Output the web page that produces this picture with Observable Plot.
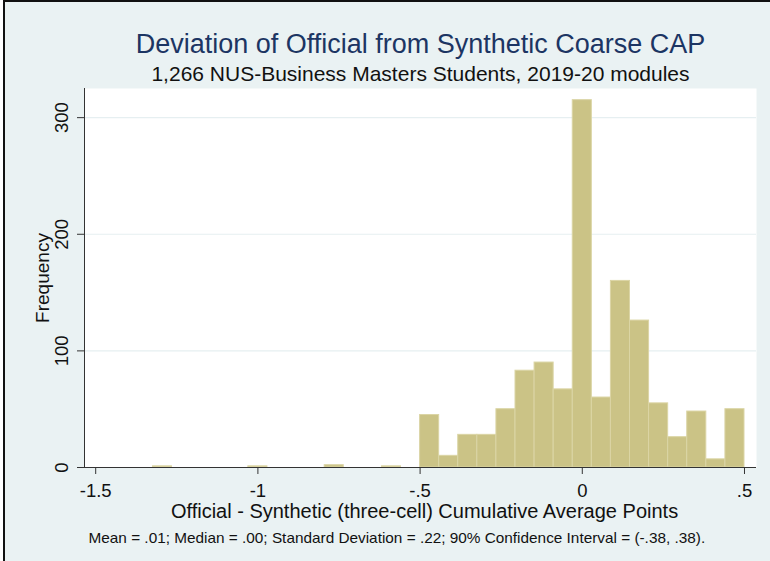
<!DOCTYPE html>
<html>
<head>
<meta charset="utf-8">
<script src="https://cdn.jsdelivr.net/npm/d3@7"></script>
<script src="https://cdn.jsdelivr.net/npm/@observablehq/plot@0.6"></script>
<style>
  html, body { margin: 0; padding: 0; background: #ffffff; }
  #chart { position: relative; width: 770px; height: 561px; overflow: hidden; }
  #chart svg { display: block; background: #eaf2f3; }
  .edge-top { position: absolute; left: 0; top: 0; width: 770px; height: 2px; background: #111; }
  .edge-left { position: absolute; left: 0; top: 0; width: 5px; height: 561px;
               background: linear-gradient(to right, #ffffff 0 3px, #111 3px 5px); }
</style>
</head>
<body>
<div id="chart"></div>
<script>
// Histogram bins (left edge of each non-empty bin, width 1/17 point) and frequencies
const binLeft = [-1.3235, -1.0294, -0.7941, -0.6176,
                 -0.5, -0.4412, -0.3824, -0.3235, -0.2647, -0.2059, -0.1471, -0.0882,
                 -0.0294, 0.0294, 0.0882, 0.1471, 0.2059, 0.2647, 0.3235, 0.3824, 0.4412];
const counts  = [1, 1, 2, 1,
                 45, 10, 28, 28, 50, 83, 90, 67,
                 315, 60, 160, 126, 55, 26, 48, 7, 50];
const binWidth = 0.0588;

// Axis ticks and their labels
const xTicks = [-1.5, -1, -0.5, 0, 0.5];
const xTickLabels = ["-1.5", "-1", "-.5", "0", ".5"];
const yTicks = [0, 100, 200, 300];
const yGrid = [100, 200, 300];

// Text
const title = "Deviation of Official from Synthetic Coarse CAP";
const subtitle = "1,266 NUS-Business Masters Students, 2019-20 modules";
const xTitle = "Official - Synthetic (three-cell) Cumulative Average Points";
const yTitle = "Frequency";
const note = "Mean = .01; Median = .00; Standard Deviation = .22; 90% Confidence Interval = (-.38, .38).";

const bins = binLeft.map((x0, i) => ({x1: x0, x2: x0 + binWidth, n: counts[i]}));
const xLabel = new Map(xTicks.map((t, i) => [t, xTickLabels[i]]));

const font = "'Liberation Sans', Arial, Helvetica, sans-serif";
const xDomain = [-1.5345, 0.537];

const chart = Plot.plot({
  width: 770,
  height: 561,
  marginLeft: 84,
  marginRight: 14,
  marginTop: 88,
  marginBottom: 94,
  style: {fontFamily: font, fontSize: "18.5px", color: "#111", background: "#eaf2f3"},
  x: {domain: xDomain},
  y: {domain: [0, 325]},
  marks: [
    Plot.frame({fill: "white", stroke: null}),
    Plot.ruleY(yGrid, {stroke: "#e6eff1", strokeWidth: 1.2}),
    Plot.rectY(bins, {x1: "x1", x2: "x2", y: "n", fill: "#cbc386", stroke: "#dbd5a5", strokeWidth: 1}),
    Plot.ruleX([xDomain[0]], {stroke: "#333", strokeWidth: 1}),
    Plot.ruleY([0], {stroke: "#333", strokeWidth: 1}),
    Plot.axisX({ticks: xTicks, tickSize: 7, tickPadding: 9, tickFormat: d => xLabel.get(d),
                stroke: "#333", fill: "#111", fontSize: 18.5, label: null}),
    Plot.axisY({ticks: yTicks, tickSize: 7, fill: "none", stroke: "#333", label: null}),
    Plot.text(yTicks, {y: d => d, text: d => String(d), frameAnchor: "left", dx: -22,
                       rotate: -90, textAnchor: "middle", lineAnchor: "middle", fontSize: 18.5, fill: "#111"}),
    Plot.text([yTitle], {frameAnchor: "left", dx: -42, rotate: -90, textAnchor: "middle",
                         lineAnchor: "middle", fontSize: 19, fill: "#111"}),
    Plot.text([title], {frameAnchor: "top", dy: -36, lineAnchor: "bottom", fontSize: 27, fill: "#1c3563"}),
    Plot.text([subtitle], {frameAnchor: "top", dy: -8, lineAnchor: "bottom", fontSize: 21, fill: "#111"}),
    Plot.text([xTitle], {frameAnchor: "bottom", dx: 4, dy: 50, lineAnchor: "bottom", fontSize: 20, fill: "#111"}),
    Plot.text([note], {frameAnchor: "bottom-left", dx: 4, dy: 75, lineAnchor: "bottom",
                       textAnchor: "start", fontSize: 15.35, fill: "#111"})
  ]
});

const host = document.getElementById("chart");
host.appendChild(chart);
const edgeTop = document.createElement("div"); edgeTop.className = "edge-top"; host.appendChild(edgeTop);
const edgeLeft = document.createElement("div"); edgeLeft.className = "edge-left"; host.appendChild(edgeLeft);
</script>
</body>
</html>
